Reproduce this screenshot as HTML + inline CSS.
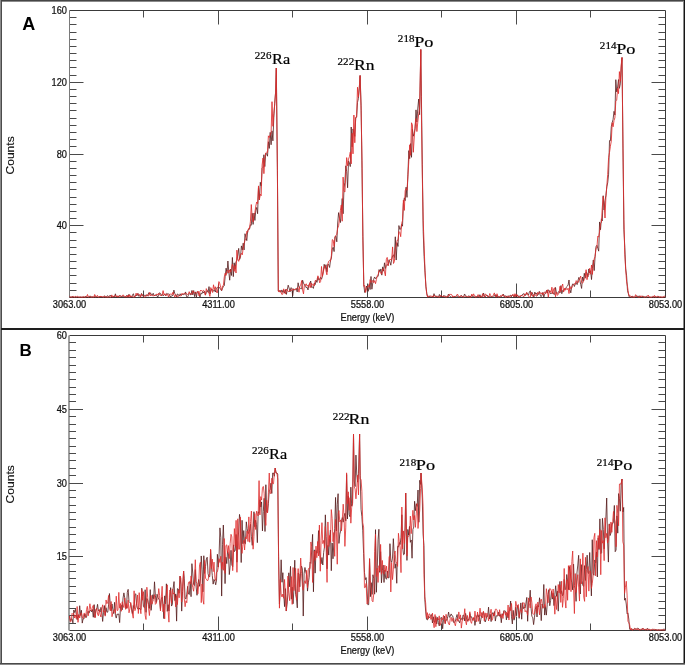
<!DOCTYPE html><html><head><meta charset="utf-8"><style>html,body{margin:0;padding:0;background:#fff;width:685px;height:665px;overflow:hidden}svg{display:block;will-change:transform}text{font-family:"Liberation Sans",sans-serif}.s{font-family:"Liberation Serif",serif;stroke:#000;stroke-width:0.2px}.t{fill:#111;stroke:#111;stroke-width:0.25px}</style></head><body>
<svg width="685" height="665" viewBox="0 0 685 665">
<rect x="0" y="0" width="685" height="665" fill="#fff"/>
<path d="M143.5,10.5v7 M143.5,297.5v-7 M218.5,10.5v14 M218.5,297.5v-14 M292.5,10.5v7 M292.5,297.5v-7 M367.5,10.5v14 M367.5,297.5v-14 M441.5,10.5v7 M441.5,297.5v-7 M516.5,10.5v14 M516.5,297.5v-14 M590.5,10.5v7 M590.5,297.5v-7 M69.5,290.5h7 M665.5,290.5h-7 M69.5,283.5h7 M665.5,283.5h-7 M69.5,275.5h7 M665.5,275.5h-7 M69.5,268.5h7 M665.5,268.5h-7 M69.5,261.5h7 M665.5,261.5h-7 M69.5,254.5h7 M665.5,254.5h-7 M69.5,247.5h7 M665.5,247.5h-7 M69.5,240.5h7 M665.5,240.5h-7 M69.5,232.5h7 M665.5,232.5h-7 M69.5,225.5h14 M665.5,225.5h-14 M69.5,218.5h7 M665.5,218.5h-7 M69.5,211.5h7 M665.5,211.5h-7 M69.5,204.5h7 M665.5,204.5h-7 M69.5,197.5h7 M665.5,197.5h-7 M69.5,189.5h7 M665.5,189.5h-7 M69.5,182.5h7 M665.5,182.5h-7 M69.5,175.5h7 M665.5,175.5h-7 M69.5,168.5h7 M665.5,168.5h-7 M69.5,161.5h7 M665.5,161.5h-7 M69.5,154.5h14 M665.5,154.5h-14 M69.5,146.5h7 M665.5,146.5h-7 M69.5,139.5h7 M665.5,139.5h-7 M69.5,132.5h7 M665.5,132.5h-7 M69.5,125.5h7 M665.5,125.5h-7 M69.5,118.5h7 M665.5,118.5h-7 M69.5,110.5h7 M665.5,110.5h-7 M69.5,103.5h7 M665.5,103.5h-7 M69.5,96.5h7 M665.5,96.5h-7 M69.5,89.5h7 M665.5,89.5h-7 M69.5,82.5h14 M665.5,82.5h-14 M69.5,75.5h7 M665.5,75.5h-7 M69.5,67.5h7 M665.5,67.5h-7 M69.5,60.5h7 M665.5,60.5h-7 M69.5,53.5h7 M665.5,53.5h-7 M69.5,46.5h7 M665.5,46.5h-7 M69.5,39.5h7 M665.5,39.5h-7 M69.5,32.5h7 M665.5,32.5h-7 M69.5,24.5h7 M665.5,24.5h-7 M69.5,17.5h7 M665.5,17.5h-7" stroke="#4a4a4a" stroke-width="1" fill="none"/>
<path d="M69.5,10.5H665.5V297.5" stroke="#3a3a3a" stroke-width="1" fill="none"/>
<path d="M69.5,10.5V297.5" stroke="#7a7a7a" stroke-width="1" fill="none"/>
<path d="M69.5,297.5H665.5" stroke="#3a3a3a" stroke-width="1" fill="none"/>
<path d="M143.5,335.5v7 M143.5,630.5v-7 M218.5,335.5v14 M218.5,630.5v-14 M292.5,335.5v7 M292.5,630.5v-7 M367.5,335.5v14 M367.5,630.5v-14 M441.5,335.5v7 M441.5,630.5v-7 M516.5,335.5v14 M516.5,630.5v-14 M590.5,335.5v7 M590.5,630.5v-7 M69.0,623.5h7 M665.5,623.5h-7 M69.0,615.5h7 M665.5,615.5h-7 M69.0,608.5h7 M665.5,608.5h-7 M69.0,601.5h7 M665.5,601.5h-7 M69.0,593.5h7 M665.5,593.5h-7 M69.0,586.5h7 M665.5,586.5h-7 M69.0,578.5h7 M665.5,578.5h-7 M69.0,571.5h7 M665.5,571.5h-7 M69.0,564.5h7 M665.5,564.5h-7 M69.0,556.5h14 M665.5,556.5h-14 M69.0,549.5h7 M665.5,549.5h-7 M69.0,542.5h7 M665.5,542.5h-7 M69.0,534.5h7 M665.5,534.5h-7 M69.0,527.5h7 M665.5,527.5h-7 M69.0,519.5h7 M665.5,519.5h-7 M69.0,512.5h7 M665.5,512.5h-7 M69.0,505.5h7 M665.5,505.5h-7 M69.0,497.5h7 M665.5,497.5h-7 M69.0,490.5h7 M665.5,490.5h-7 M69.0,483.5h14 M665.5,483.5h-14 M69.0,475.5h7 M665.5,475.5h-7 M69.0,468.5h7 M665.5,468.5h-7 M69.0,460.5h7 M665.5,460.5h-7 M69.0,453.5h7 M665.5,453.5h-7 M69.0,446.5h7 M665.5,446.5h-7 M69.0,438.5h7 M665.5,438.5h-7 M69.0,431.5h7 M665.5,431.5h-7 M69.0,424.5h7 M665.5,424.5h-7 M69.0,416.5h7 M665.5,416.5h-7 M69.0,409.5h14 M665.5,409.5h-14 M69.0,401.5h7 M665.5,401.5h-7 M69.0,394.5h7 M665.5,394.5h-7 M69.0,387.5h7 M665.5,387.5h-7 M69.0,379.5h7 M665.5,379.5h-7 M69.0,372.5h7 M665.5,372.5h-7 M69.0,365.5h7 M665.5,365.5h-7 M69.0,357.5h7 M665.5,357.5h-7 M69.0,350.5h7 M665.5,350.5h-7 M69.0,342.5h7 M665.5,342.5h-7" stroke="#4a4a4a" stroke-width="1" fill="none"/>
<path d="M69.5,335.5H665.5V630.5" stroke="#3a3a3a" stroke-width="1" fill="none"/>
<path d="M69.0,335.5V630.5" stroke="#606060" stroke-width="1.2" fill="none"/>
<path d="M69.5,630.5H665.5" stroke="#3a3a3a" stroke-width="1" fill="none"/>
<polyline points="69.50,297.20 70.40,297.20 71.30,297.20 72.20,296.22 73.10,297.20 74.00,297.07 74.90,297.20 75.80,296.57 76.70,297.20 77.60,297.20 78.50,297.20 79.40,297.11 80.30,297.02 81.20,297.20 82.10,297.20 83.00,296.85 83.90,297.20 84.80,297.20 85.70,296.23 86.60,297.20 87.50,297.20 88.40,297.20 89.30,297.20 90.20,295.87 91.10,296.94 92.00,296.92 92.90,296.92 93.80,297.20 94.70,296.58 95.60,296.17 96.50,296.90 97.40,297.14 98.30,297.20 99.20,296.97 100.10,296.24 101.00,297.20 101.90,296.73 102.80,297.13 103.70,296.66 104.60,295.89 105.50,297.12 106.40,297.20 107.30,295.67 108.20,296.50 109.10,296.24 110.00,295.46 110.90,295.69 111.80,297.20 112.70,297.20 113.60,296.16 114.50,297.09 115.40,293.81 116.30,297.20 117.20,296.42 118.10,297.20 119.00,295.66 119.90,295.96 120.80,295.85 121.70,297.20 122.60,296.03 123.50,296.17 124.40,297.20 125.30,297.20 126.20,295.84 127.10,295.53 128.00,297.13 128.90,294.28 129.80,295.73 130.70,297.20 131.60,297.20 132.50,295.03 133.40,293.72 134.30,296.87 135.20,296.16 136.10,294.91 137.00,295.78 137.90,293.39 138.80,296.33 139.70,295.74 140.60,296.29 141.50,293.48 142.40,296.01 143.30,295.18 144.20,295.52 145.10,295.00 146.00,295.86 146.90,295.62 147.80,295.75 148.70,292.74 149.60,294.32 150.50,292.81 151.40,294.94 152.30,295.21 153.20,293.27 154.10,295.73 155.00,295.13 155.90,295.14 156.80,295.39 157.70,297.20 158.60,295.31 159.50,292.76 160.40,293.33 161.30,295.62 162.20,294.33 163.10,295.87 164.00,294.90 164.90,294.46 165.80,295.71 166.70,293.38 167.60,293.96 168.50,293.96 169.40,294.43 170.30,297.03 171.20,296.01 172.10,296.06 173.00,295.00 173.90,290.10 174.80,293.71 175.70,294.48 176.60,296.74 177.50,293.96 178.40,294.54 179.30,296.10 180.20,293.77 181.10,295.30 182.00,294.58 182.90,294.31 183.80,294.65 184.70,294.13 185.60,291.93 186.50,296.47 187.40,297.20 188.30,295.70 189.20,293.51 190.10,294.45 191.00,295.03 191.90,290.44 192.80,294.90 193.70,290.55 194.60,296.66 195.50,291.89 196.40,297.20 197.30,291.50 198.20,292.76 199.10,294.35 200.00,297.20 200.90,293.11 201.80,293.99 202.70,291.45 203.60,292.99 204.50,291.11 205.40,295.01 206.30,292.65 207.20,290.43 208.10,292.33 209.00,286.60 209.90,293.99 210.80,291.02 211.70,288.98 212.60,290.30 213.50,291.09 214.40,289.76 215.30,292.03 216.20,288.39 217.10,287.66 218.00,287.80 218.90,287.04 219.80,288.01 220.70,289.50 221.60,290.79 222.50,288.27 223.40,286.51 224.30,285.72 225.20,276.17 226.10,268.16 227.00,273.35 227.90,261.00 228.80,271.91 229.70,280.21 230.60,269.19 231.50,275.47 232.40,257.44 233.30,276.64 234.20,262.84 235.10,269.03 236.00,261.45 236.90,260.79 237.80,255.01 238.70,248.39 239.60,259.49 240.50,257.17 241.40,245.89 242.30,250.07 243.20,243.17 244.10,249.91 245.00,233.71 245.90,237.46 246.80,240.62 247.70,230.61 248.60,229.14 249.50,229.21 250.40,224.78 251.30,225.23 252.20,213.26 253.10,224.41 254.00,213.01 254.90,220.44 255.80,210.26 256.70,207.46 257.60,213.71 258.50,187.68 259.40,199.85 260.30,182.29 261.20,185.92 262.10,168.36 263.00,167.20 263.90,154.76 264.80,166.57 265.70,153.48 266.60,153.67 267.50,156.20 268.40,141.74 269.30,148.40 270.20,132.36 271.10,144.75 272.00,130.87 272.90,140.84 273.80,117.51 274.70,103.32 275.60,92.09 276.30,68.00 277.40,170.40 278.30,291.21 279.20,291.04 280.10,290.81 281.00,292.32 281.90,289.91 282.80,292.41 283.70,290.43 284.60,293.19 285.50,289.56 286.40,294.38 287.30,289.75 288.20,285.17 289.10,287.96 290.00,291.98 290.90,287.67 291.80,288.25 292.70,295.79 293.60,288.91 294.50,289.80 295.40,289.12 296.30,288.60 297.20,291.91 298.10,282.79 299.00,287.62 299.90,287.80 300.80,288.75 301.70,288.79 302.60,280.17 303.50,283.15 304.40,284.86 305.30,285.32 306.20,287.75 307.10,287.22 308.00,289.95 308.90,284.54 309.80,284.34 310.70,281.03 311.60,287.38 312.50,286.84 313.40,288.40 314.30,283.01 315.20,284.55 316.10,280.32 317.00,282.42 317.90,277.34 318.80,279.96 319.70,279.33 320.60,277.32 321.50,279.25 322.40,276.47 323.30,271.35 324.20,264.30 325.10,268.34 326.00,264.66 326.90,271.84 327.80,264.36 328.70,264.49 329.60,267.50 330.50,260.48 331.40,258.11 332.30,248.91 333.20,247.22 334.10,251.59 335.00,236.54 335.90,236.17 336.80,241.83 337.70,223.00 338.60,212.64 339.50,218.29 340.40,222.58 341.30,210.61 342.20,198.55 343.10,213.76 344.00,187.93 344.90,182.31 345.80,165.84 346.70,171.69 347.60,187.79 348.50,161.02 349.40,162.72 350.30,166.55 351.20,127.03 352.10,146.85 353.00,128.93 353.90,132.73 354.80,136.34 355.70,117.78 356.60,117.09 357.50,102.37 358.40,98.45 359.30,88.08 360.10,75.50 361.10,105.25 362.00,168.12 362.90,236.40 363.80,284.82 364.70,292.48 365.60,290.27 366.50,286.01 367.40,289.31 368.30,291.27 369.20,283.79 370.10,289.56 371.00,276.48 371.90,289.22 372.80,282.73 373.70,279.29 374.60,276.98 375.50,278.64 376.40,277.57 377.30,277.00 378.20,276.05 379.10,269.56 380.00,271.71 380.90,268.95 381.80,275.14 382.70,266.89 383.60,271.15 384.50,262.82 385.40,268.53 386.30,265.35 387.20,264.44 388.10,265.51 389.00,259.80 389.90,262.03 390.80,265.18 391.70,259.12 392.60,255.69 393.50,254.95 394.40,257.57 395.30,236.79 396.20,260.04 397.10,242.68 398.00,246.47 398.90,225.59 399.80,229.39 400.70,229.12 401.60,224.48 402.50,226.20 403.40,203.41 404.30,197.86 405.20,200.63 406.10,187.17 407.00,197.37 407.90,174.74 408.80,150.63 409.70,158.70 410.60,143.60 411.50,157.32 412.40,129.29 413.30,136.21 414.20,133.52 415.10,128.66 416.00,109.88 416.90,122.01 417.80,108.05 418.70,99.01 419.60,114.70 420.80,49.50 421.40,96.21 422.30,164.84 423.20,231.36 424.10,256.52 425.00,272.23 425.90,286.55 426.80,293.44 427.70,296.70 428.60,297.19 429.50,295.90 430.40,297.20 431.30,297.20 432.20,296.63 433.10,296.92 434.00,293.67 434.90,296.30 435.80,296.14 436.70,296.25 437.60,297.20 438.50,297.20 439.40,294.46 440.30,296.74 441.20,295.64 442.10,296.91 443.00,297.20 443.90,295.30 444.80,296.28 445.70,296.16 446.60,297.08 447.50,297.20 448.40,294.13 449.30,295.64 450.20,296.22 451.10,297.20 452.00,297.20 452.90,296.80 453.80,297.20 454.70,296.27 455.60,297.20 456.50,295.79 457.40,295.83 458.30,297.20 459.20,297.20 460.10,296.77 461.00,295.32 461.90,296.00 462.80,297.20 463.70,296.37 464.60,293.98 465.50,295.68 466.40,296.66 467.30,297.20 468.20,296.35 469.10,295.72 470.00,297.20 470.90,295.95 471.80,295.79 472.70,296.60 473.60,296.46 474.50,297.20 475.40,296.32 476.30,296.77 477.20,296.32 478.10,296.86 479.00,297.20 479.90,294.70 480.80,297.20 481.70,297.20 482.60,296.03 483.50,293.10 484.40,296.27 485.30,296.80 486.20,295.37 487.10,295.26 488.00,295.98 488.90,297.20 489.80,296.54 490.70,296.83 491.60,296.49 492.50,296.74 493.40,296.12 494.30,296.25 495.20,294.58 496.10,297.20 497.00,295.05 497.90,297.20 498.80,296.55 499.70,296.97 500.60,296.26 501.50,296.30 502.40,295.76 503.30,294.12 504.20,296.49 505.10,296.44 506.00,295.68 506.90,297.20 507.80,297.20 508.70,295.77 509.60,296.02 510.50,295.15 511.40,296.74 512.30,295.01 513.20,295.56 514.10,297.20 515.00,294.71 515.90,297.20 516.80,296.18 517.70,294.97 518.60,297.12 519.50,296.22 520.40,296.89 521.30,295.54 522.20,295.22 523.10,293.85 524.00,293.92 524.90,295.55 525.80,295.12 526.70,292.57 527.60,293.97 528.50,295.11 529.40,291.94 530.30,290.76 531.20,295.43 532.10,292.43 533.00,294.44 533.90,297.20 534.80,292.07 535.70,294.08 536.60,292.98 537.50,295.54 538.40,294.21 539.30,291.40 540.20,295.08 541.10,296.70 542.00,295.08 542.90,292.36 543.80,297.20 544.70,294.11 545.60,292.85 546.50,290.39 547.40,293.17 548.30,289.92 549.20,290.61 550.10,293.35 551.00,293.80 551.90,292.97 552.80,292.22 553.70,294.23 554.60,294.37 555.50,287.46 556.40,293.09 557.30,293.55 558.20,292.15 559.10,291.33 560.00,292.95 560.90,285.64 561.80,293.73 562.70,290.30 563.60,290.08 564.50,290.07 565.40,288.66 566.30,287.24 567.20,286.37 568.10,285.00 569.00,279.99 569.90,289.39 570.80,292.85 571.70,286.77 572.60,283.96 573.50,284.08 574.40,286.50 575.30,283.43 576.20,282.39 577.10,284.61 578.00,280.37 578.90,277.35 579.80,280.26 580.70,284.33 581.60,288.43 582.50,277.01 583.40,280.97 584.30,273.28 585.20,278.10 586.10,271.91 587.00,272.77 587.90,277.03 588.80,268.96 589.70,272.92 590.60,270.76 591.50,279.56 592.40,268.27 593.30,260.04 594.20,270.60 595.10,256.42 596.00,246.68 596.90,245.31 597.80,248.23 598.70,251.16 599.60,221.95 600.50,229.72 601.40,218.82 602.30,220.93 603.20,195.73 604.10,210.01 605.00,200.51 605.90,195.68 606.80,186.87 607.70,182.86 608.60,174.18 609.50,140.58 610.40,140.85 611.30,126.67 612.20,122.60 613.10,119.27 614.00,111.33 614.90,115.05 615.80,79.68 616.70,91.86 617.60,86.98 618.50,79.60 619.40,88.37 620.30,83.90 621.20,68.02 622.00,57.50 623.00,150.93 623.90,229.74 624.80,247.40 625.70,268.83 626.60,275.80 627.50,290.62 628.40,293.76 629.30,297.20 630.20,297.20 631.10,297.09 632.00,296.04 632.90,296.63 633.80,297.20 634.70,297.20 635.60,297.20 636.50,295.83 637.40,296.01 638.30,297.20 639.20,295.74 640.10,297.10 641.00,297.00 641.90,297.20 642.80,295.86 643.70,297.20 644.60,296.84 645.50,297.20 646.40,296.36 647.30,297.20 648.20,297.20 649.10,297.20 650.00,297.20 650.90,297.20 651.80,297.20 652.70,297.20 653.60,296.40 654.50,297.20 655.40,296.53 656.30,297.19 657.20,297.19 658.10,296.41 659.00,296.77 659.90,297.20 660.80,297.20 661.70,297.20 662.60,297.20 663.50,297.14 664.40,297.20 665.30,297.20" fill="none" stroke="#561a1a" stroke-width="0.8" stroke-linejoin="round"/>
<polyline points="69.50,296.30 70.40,296.86 71.30,297.20 72.20,297.20 73.10,296.30 74.00,297.15 74.90,297.19 75.80,296.52 76.70,297.20 77.60,296.19 78.50,296.99 79.40,297.16 80.30,297.02 81.20,297.20 82.10,297.20 83.00,297.20 83.90,296.63 84.80,297.20 85.70,297.20 86.60,296.60 87.50,294.52 88.40,297.20 89.30,296.55 90.20,296.58 91.10,297.20 92.00,297.09 92.90,296.87 93.80,297.20 94.70,294.47 95.60,297.20 96.50,296.60 97.40,295.34 98.30,297.17 99.20,297.20 100.10,296.00 101.00,297.05 101.90,296.27 102.80,297.20 103.70,297.20 104.60,295.89 105.50,297.20 106.40,296.99 107.30,297.05 108.20,297.20 109.10,296.40 110.00,297.20 110.90,297.20 111.80,294.88 112.70,297.20 113.60,296.19 114.50,296.37 115.40,295.11 116.30,296.90 117.20,295.77 118.10,297.20 119.00,295.66 119.90,296.41 120.80,296.00 121.70,296.50 122.60,295.18 123.50,295.05 124.40,296.90 125.30,296.91 126.20,296.26 127.10,297.20 128.00,295.05 128.90,297.20 129.80,294.77 130.70,297.20 131.60,296.28 132.50,296.20 133.40,297.20 134.30,296.86 135.20,296.85 136.10,293.15 137.00,295.40 137.90,293.60 138.80,294.56 139.70,294.64 140.60,297.19 141.50,293.93 142.40,294.94 143.30,295.54 144.20,297.03 145.10,297.20 146.00,296.15 146.90,294.36 147.80,295.53 148.70,296.06 149.60,292.44 150.50,295.89 151.40,294.89 152.30,295.51 153.20,295.77 154.10,295.74 155.00,295.23 155.90,295.29 156.80,293.88 157.70,295.06 158.60,293.19 159.50,294.96 160.40,295.09 161.30,296.03 162.20,294.60 163.10,290.64 164.00,294.95 164.90,293.61 165.80,295.72 166.70,294.43 167.60,294.37 168.50,297.10 169.40,294.35 170.30,294.15 171.20,294.11 172.10,294.54 173.00,292.18 173.90,294.68 174.80,297.16 175.70,294.67 176.60,295.41 177.50,297.20 178.40,296.06 179.30,295.33 180.20,295.76 181.10,295.79 182.00,293.27 182.90,294.18 183.80,293.65 184.70,293.22 185.60,294.38 186.50,293.44 187.40,294.49 188.30,294.33 189.20,291.67 190.10,293.80 191.00,293.45 191.90,294.51 192.80,290.80 193.70,291.65 194.60,293.27 195.50,292.74 196.40,293.60 197.30,292.10 198.20,291.06 199.10,295.90 200.00,291.09 200.90,290.04 201.80,291.01 202.70,291.19 203.60,290.30 204.50,291.72 205.40,295.20 206.30,288.61 207.20,290.60 208.10,291.51 209.00,293.34 209.90,296.36 210.80,287.58 211.70,289.98 212.60,292.50 213.50,284.79 214.40,289.55 215.30,286.74 216.20,290.38 217.10,293.01 218.00,288.61 218.90,281.60 219.80,283.67 220.70,287.53 221.60,290.36 222.50,285.95 223.40,285.45 224.30,276.92 225.20,273.06 226.10,275.35 227.00,270.88 227.90,270.18 228.80,272.96 229.70,269.83 230.60,272.08 231.50,268.78 232.40,264.17 233.30,267.06 234.20,271.40 235.10,265.48 236.00,272.99 236.90,250.13 237.80,258.58 238.70,261.36 239.60,258.56 240.50,254.97 241.40,253.30 242.30,254.80 243.20,248.03 244.10,243.33 245.00,240.33 245.90,238.45 246.80,231.31 247.70,232.25 248.60,228.36 249.50,228.60 250.40,221.82 251.30,204.55 252.20,217.90 253.10,221.95 254.00,214.75 254.90,212.56 255.80,206.07 256.70,201.97 257.60,203.65 258.50,185.88 259.40,199.67 260.30,194.17 261.20,195.74 262.10,165.14 263.00,157.98 263.90,173.65 264.80,158.72 265.70,152.94 266.60,152.20 267.50,152.64 268.40,135.83 269.30,137.56 270.20,135.03 271.10,132.92 272.00,101.68 272.90,126.30 273.80,113.56 274.70,104.83 275.60,92.33 276.30,68.00 277.40,169.07 278.30,291.01 279.20,292.13 280.10,290.12 281.00,292.27 281.90,294.57 282.80,294.10 283.70,288.83 284.60,291.62 285.50,293.81 286.40,288.97 287.30,290.18 288.20,291.44 289.10,291.45 290.00,289.80 290.90,290.47 291.80,290.47 292.70,288.75 293.60,290.02 294.50,289.45 295.40,289.97 296.30,288.79 297.20,287.72 298.10,288.08 299.00,292.21 299.90,285.90 300.80,285.07 301.70,280.55 302.60,289.87 303.50,293.89 304.40,284.83 305.30,284.79 306.20,283.79 307.10,286.18 308.00,285.29 308.90,287.53 309.80,282.66 310.70,287.64 311.60,283.26 312.50,285.20 313.40,284.47 314.30,285.93 315.20,280.62 316.10,280.61 317.00,279.61 317.90,275.81 318.80,277.89 319.70,282.81 320.60,281.57 321.50,266.48 322.40,276.36 323.30,272.20 324.20,267.44 325.10,265.51 326.00,270.93 326.90,274.80 327.80,264.26 328.70,261.24 329.60,260.41 330.50,261.28 331.40,255.50 332.30,239.62 333.20,240.22 334.10,246.61 335.00,237.08 335.90,235.52 336.80,234.24 337.70,228.24 338.60,225.80 339.50,219.00 340.40,210.24 341.30,204.96 342.20,221.23 343.10,177.10 344.00,191.21 344.90,192.03 345.80,173.12 346.70,157.60 347.60,165.83 348.50,159.18 349.40,156.66 350.30,152.07 351.20,163.88 352.10,133.21 353.00,153.83 353.90,115.05 354.80,142.78 355.70,117.23 356.60,117.27 357.50,87.20 358.40,96.89 359.30,87.41 360.10,75.50 361.10,110.40 362.00,160.43 362.90,240.21 363.80,286.32 364.70,285.46 365.60,292.44 366.50,289.04 367.40,286.85 368.30,285.51 369.20,287.10 370.10,279.60 371.00,282.40 371.90,281.85 372.80,280.36 373.70,282.73 374.60,280.60 375.50,283.66 376.40,279.47 377.30,275.41 378.20,274.64 379.10,270.64 380.00,271.64 380.90,273.61 381.80,273.84 382.70,269.10 383.60,268.55 384.50,271.84 385.40,275.86 386.30,259.59 387.20,257.43 388.10,265.67 389.00,261.55 389.90,259.54 390.80,259.60 391.70,259.49 392.60,246.92 393.50,263.48 394.40,261.48 395.30,248.63 396.20,246.32 397.10,240.27 398.00,240.24 398.90,231.55 399.80,232.47 400.70,236.68 401.60,223.79 402.50,220.54 403.40,200.23 404.30,210.42 405.20,190.69 406.10,188.76 407.00,190.24 407.90,176.38 408.80,161.52 409.70,144.77 410.60,155.30 411.50,122.78 412.40,124.84 413.30,152.30 414.20,137.99 415.10,126.48 416.00,118.54 416.90,131.56 417.80,121.98 418.70,113.73 419.60,108.25 420.80,49.50 421.40,112.50 422.30,176.16 423.20,220.25 424.10,245.14 425.00,270.70 425.90,285.94 426.80,294.73 427.70,297.19 428.60,296.03 429.50,296.29 430.40,295.98 431.30,296.31 432.20,295.98 433.10,297.20 434.00,295.39 434.90,295.72 435.80,297.13 436.70,296.35 437.60,296.19 438.50,297.20 439.40,297.20 440.30,295.74 441.20,295.40 442.10,296.54 443.00,296.71 443.90,296.18 444.80,296.74 445.70,296.98 446.60,297.20 447.50,295.81 448.40,296.87 449.30,294.37 450.20,294.47 451.10,294.31 452.00,295.05 452.90,297.20 453.80,296.20 454.70,296.49 455.60,296.39 456.50,295.60 457.40,294.07 458.30,295.46 459.20,297.20 460.10,296.08 461.00,296.30 461.90,295.83 462.80,297.14 463.70,296.99 464.60,296.19 465.50,296.47 466.40,296.22 467.30,296.61 468.20,296.66 469.10,296.62 470.00,297.20 470.90,297.20 471.80,294.09 472.70,296.15 473.60,293.83 474.50,296.12 475.40,297.20 476.30,296.87 477.20,296.56 478.10,294.59 479.00,297.20 479.90,296.66 480.80,295.87 481.70,297.20 482.60,293.71 483.50,295.34 484.40,297.20 485.30,293.83 486.20,294.93 487.10,296.33 488.00,296.90 488.90,296.52 489.80,293.52 490.70,295.65 491.60,296.85 492.50,295.89 493.40,295.25 494.30,292.90 495.20,295.55 496.10,297.20 497.00,293.72 497.90,296.34 498.80,297.20 499.70,296.76 500.60,295.56 501.50,296.57 502.40,294.60 503.30,296.16 504.20,295.45 505.10,297.20 506.00,297.20 506.90,296.96 507.80,295.80 508.70,297.12 509.60,297.20 510.50,295.76 511.40,296.14 512.30,294.81 513.20,294.34 514.10,296.71 515.00,293.66 515.90,296.30 516.80,294.35 517.70,296.49 518.60,296.82 519.50,297.20 520.40,295.67 521.30,295.58 522.20,295.51 523.10,296.33 524.00,296.66 524.90,293.68 525.80,294.87 526.70,292.49 527.60,294.25 528.50,295.98 529.40,297.20 530.30,297.20 531.20,292.15 532.10,294.49 533.00,296.61 533.90,294.62 534.80,294.01 535.70,295.63 536.60,296.24 537.50,292.44 538.40,294.21 539.30,292.24 540.20,292.43 541.10,293.96 542.00,292.70 542.90,295.11 543.80,293.03 544.70,291.80 545.60,293.78 546.50,292.14 547.40,289.77 548.30,297.20 549.20,291.19 550.10,290.49 551.00,292.56 551.90,287.20 552.80,293.89 553.70,289.00 554.60,287.74 555.50,296.80 556.40,292.01 557.30,295.32 558.20,294.57 559.10,292.76 560.00,286.34 560.90,291.69 561.80,286.68 562.70,284.03 563.60,292.05 564.50,288.25 565.40,290.23 566.30,288.48 567.20,289.73 568.10,288.18 569.00,293.55 569.90,286.43 570.80,288.95 571.70,288.09 572.60,285.60 573.50,284.64 574.40,283.71 575.30,284.42 576.20,280.62 577.10,282.15 578.00,282.87 578.90,280.13 579.80,278.64 580.70,276.13 581.60,282.43 582.50,283.19 583.40,281.76 584.30,279.34 585.20,277.66 586.10,269.70 587.00,279.66 587.90,274.31 588.80,275.11 589.70,268.32 590.60,274.16 591.50,264.97 592.40,274.39 593.30,264.15 594.20,258.89 595.10,256.62 596.00,248.27 596.90,247.70 597.80,236.16 598.70,237.14 599.60,231.71 600.50,223.50 601.40,222.60 602.30,207.24 603.20,196.53 604.10,204.05 605.00,218.01 605.90,197.38 606.80,186.13 607.70,174.40 608.60,157.60 609.50,152.48 610.40,146.19 611.30,141.15 612.20,122.67 613.10,126.78 614.00,120.48 614.90,117.81 615.80,101.02 616.70,100.27 617.60,88.25 618.50,93.63 619.40,71.61 620.30,81.28 621.20,65.05 622.00,57.50 623.00,148.66 623.90,219.46 624.80,254.80 625.70,269.51 626.60,281.77 627.50,286.29 628.40,293.11 629.30,296.11 630.20,295.56 631.10,296.86 632.00,297.20 632.90,296.64 633.80,297.20 634.70,297.20 635.60,294.66 636.50,296.42 637.40,296.64 638.30,297.20 639.20,297.06 640.10,297.20 641.00,295.69 641.90,296.70 642.80,296.29 643.70,297.20 644.60,297.20 645.50,296.79 646.40,297.20 647.30,296.25 648.20,295.05 649.10,296.97 650.00,297.20 650.90,297.20 651.80,297.20 652.70,296.40 653.60,297.20 654.50,295.45 655.40,297.20 656.30,296.98 657.20,296.33 658.10,296.55 659.00,297.20 659.90,297.20 660.80,296.70 661.70,297.20 662.60,297.20 663.50,297.05 664.40,296.00 665.30,296.62" fill="none" stroke="#de2c2c" stroke-width="0.85" stroke-linejoin="round"/>
<polyline points="69.50,615.97 70.35,620.57 71.20,619.13 72.05,618.96 72.90,622.93 73.75,610.02 74.60,612.54 75.45,609.24 76.30,614.70 77.15,619.74 78.00,614.90 78.85,617.24 79.70,605.73 80.55,615.40 81.40,610.24 82.25,623.10 83.10,618.72 83.95,618.96 84.80,613.91 85.65,617.15 86.50,617.29 87.35,612.16 88.20,611.28 89.05,613.11 89.90,610.49 90.75,610.43 91.60,611.93 92.45,609.49 93.30,617.24 94.15,604.64 95.00,617.39 95.85,609.26 96.70,609.29 97.55,604.33 98.40,610.81 99.25,609.84 100.10,612.11 100.95,607.36 101.80,610.86 102.65,621.43 103.50,612.22 104.35,605.53 105.20,615.21 106.05,607.72 106.90,612.28 107.75,612.12 108.60,604.83 109.45,593.54 110.30,604.47 111.15,610.80 112.00,603.95 112.85,609.76 113.70,613.60 114.55,602.32 115.40,615.28 116.25,618.09 117.10,613.98 117.95,614.54 118.80,613.93 119.65,622.60 120.50,606.84 121.35,605.31 122.20,609.80 123.05,598.04 123.90,592.89 124.75,597.93 125.60,607.57 126.45,608.25 127.30,592.29 128.15,589.35 129.00,601.63 129.85,602.52 130.70,603.54 131.55,609.25 132.40,613.68 133.25,605.54 134.10,608.57 134.95,594.59 135.80,593.81 136.65,605.27 137.50,608.71 138.35,609.15 139.20,607.98 140.05,609.50 140.90,609.64 141.75,588.22 142.60,596.60 143.45,606.47 144.30,607.59 145.15,589.73 146.00,612.32 146.85,598.59 147.70,600.25 148.55,604.48 149.40,608.47 150.25,589.64 151.10,610.33 151.95,602.28 152.80,594.71 153.65,598.85 154.50,581.80 155.35,595.18 156.20,602.38 157.05,594.23 157.90,597.46 158.75,598.92 159.60,600.52 160.45,609.25 161.30,599.51 162.15,597.17 163.00,604.40 163.85,618.59 164.70,595.85 165.55,603.72 166.40,583.81 167.25,611.33 168.10,604.67 168.95,610.98 169.80,597.47 170.65,587.62 171.50,606.07 172.35,604.50 173.20,588.08 174.05,581.58 174.90,600.59 175.75,593.95 176.60,621.13 177.45,588.64 178.30,589.14 179.15,593.17 180.00,576.26 180.85,584.11 181.70,611.12 182.55,591.55 183.60,571.00 184.25,578.20 185.10,598.44 185.95,599.00 186.80,594.11 187.65,586.36 188.50,593.98 189.35,594.51 190.20,581.69 191.05,596.68 191.90,563.67 192.75,573.04 193.60,584.49 194.45,585.52 195.30,569.61 196.15,587.08 197.00,595.31 197.85,584.80 198.70,579.50 199.55,586.29 200.40,578.95 201.25,555.96 202.10,569.79 202.95,591.85 203.80,555.75 204.65,573.46 205.50,566.67 206.35,559.02 207.20,557.24 208.05,573.70 208.90,576.80 209.75,576.63 210.60,549.97 211.45,566.65 212.30,575.60 213.15,584.11 214.00,579.41 214.85,581.28 215.70,584.80 216.55,580.07 217.40,554.25 218.25,567.12 219.10,554.54 219.95,527.87 220.80,537.64 221.65,596.05 222.50,544.22 223.35,525.06 224.20,550.53 225.05,583.61 225.90,557.19 226.75,563.61 227.60,551.43 228.45,553.49 229.30,574.57 230.15,565.79 231.00,550.30 231.85,565.03 232.70,566.82 233.55,544.86 234.40,551.60 235.25,550.23 236.10,534.45 236.95,562.19 237.80,540.22 238.65,532.02 239.50,514.42 240.35,519.91 241.20,562.53 242.05,520.27 242.90,543.74 243.75,530.59 244.60,543.26 245.45,543.78 246.30,521.84 247.15,528.40 248.00,533.51 248.85,532.88 249.70,529.87 250.55,524.26 251.40,536.77 252.25,545.34 253.10,532.17 253.95,511.73 254.80,526.78 255.65,520.29 256.50,524.47 257.35,542.65 258.20,511.67 259.05,513.34 259.90,499.77 260.75,507.01 261.60,501.90 262.45,530.91 263.30,511.64 264.15,498.33 265.00,531.47 265.85,484.73 266.70,512.19 267.55,511.95 268.40,503.76 269.25,490.52 270.10,489.85 270.95,483.18 271.80,493.47 272.65,473.00 273.50,473.00 274.35,476.22 275.20,468.00 276.05,473.00 276.90,473.00 277.75,474.02 278.60,556.67 279.45,604.05 280.30,585.87 281.15,559.80 282.00,582.25 282.85,572.69 283.70,593.52 284.55,606.63 285.40,588.61 286.25,611.04 287.10,604.16 287.95,593.36 288.80,572.80 289.65,586.79 290.50,566.33 291.35,599.19 292.20,587.15 293.05,603.78 293.90,589.54 294.75,560.19 295.60,594.39 296.45,598.18 297.30,607.87 298.15,573.10 299.00,573.77 299.85,586.80 300.70,571.32 301.55,566.12 302.40,569.05 303.25,616.04 304.10,573.72 304.95,567.49 305.80,572.02 306.65,575.06 307.50,591.10 308.35,582.82 309.20,577.29 310.05,562.32 310.90,563.30 311.75,549.51 312.60,534.39 313.45,591.78 314.30,549.83 315.15,573.12 316.00,550.43 316.85,553.26 317.70,551.37 318.55,530.64 319.40,550.87 320.25,557.42 321.10,563.76 321.95,557.47 322.80,565.01 323.65,552.51 324.50,546.84 325.35,514.84 326.20,536.70 327.05,568.83 327.90,545.37 328.75,555.09 329.60,538.41 330.45,530.02 331.30,570.69 332.15,542.94 333.00,558.80 333.85,542.44 334.70,528.34 335.55,497.43 336.40,531.09 337.25,504.82 338.10,493.70 338.95,543.40 339.80,534.16 340.65,531.11 341.50,520.59 342.35,517.47 343.20,522.15 344.05,516.43 344.90,513.34 345.75,520.80 346.60,474.50 347.45,518.96 348.30,496.14 349.15,514.48 350.00,516.80 350.85,487.16 351.70,506.24 352.55,503.37 353.50,434.00 354.25,481.00 355.10,486.60 355.95,455.08 356.80,475.18 357.65,482.12 358.50,473.60 359.60,434.00 360.20,475.45 361.05,509.24 361.90,516.79 362.75,530.82 363.60,553.41 364.45,572.47 365.30,579.71 366.15,577.62 367.00,588.86 367.85,604.80 368.70,604.59 369.55,558.94 370.40,596.70 371.25,582.71 372.10,594.39 372.95,574.75 373.80,578.70 374.65,594.18 375.50,529.67 376.35,592.31 377.20,570.75 378.05,539.78 378.90,529.25 379.75,572.37 380.60,551.69 381.45,582.84 382.30,570.63 383.15,565.17 384.00,582.46 384.85,570.04 385.70,578.22 386.55,579.30 387.40,571.07 388.25,578.01 389.10,577.68 389.95,543.68 390.80,560.43 391.65,562.47 392.50,558.08 393.35,538.66 394.20,554.38 395.05,568.26 395.90,563.77 396.75,583.28 397.60,546.25 398.45,546.96 399.30,542.52 400.15,544.46 401.00,537.35 401.85,514.79 402.70,547.34 403.55,554.78 404.40,554.12 405.25,518.00 405.70,493.00 406.95,560.40 407.80,529.46 408.65,535.15 409.50,526.42 410.35,542.33 411.20,539.98 412.05,558.23 412.90,529.53 413.75,527.05 414.60,501.25 415.45,510.66 416.30,503.81 417.15,506.40 418.00,490.03 418.85,522.22 419.70,480.31 420.55,484.40 421.00,473.00 422.25,497.92 423.10,533.93 423.95,545.52 424.80,599.34 425.65,611.08 426.50,619.25 427.35,619.96 428.20,615.96 429.05,617.95 429.90,616.56 430.75,615.86 431.60,614.54 432.45,623.01 433.30,616.82 434.15,622.20 435.00,621.95 435.85,616.50 436.70,624.04 437.55,617.43 438.40,622.85 439.25,625.88 440.10,618.54 440.95,617.71 441.80,617.56 442.65,628.72 443.50,619.34 444.35,616.12 445.20,623.36 446.05,619.76 446.90,620.18 447.75,616.63 448.60,612.10 449.45,617.39 450.30,616.14 451.15,613.93 452.00,615.77 452.85,616.18 453.70,622.58 454.55,622.14 455.40,621.35 456.25,617.33 457.10,614.49 457.95,620.29 458.80,620.83 459.65,622.83 460.50,618.80 461.35,618.32 462.20,619.94 463.05,615.04 463.90,615.42 464.75,621.01 465.60,613.42 466.45,618.00 467.30,621.35 468.15,619.10 469.00,619.80 469.85,613.51 470.70,617.40 471.55,616.72 472.40,620.21 473.25,619.39 474.10,617.71 474.95,625.39 475.80,619.70 476.65,616.17 477.50,614.72 478.35,617.06 479.20,614.72 480.05,624.00 480.90,619.34 481.75,615.43 482.60,613.79 483.45,611.80 484.30,615.13 485.15,622.00 486.00,619.80 486.85,615.66 487.70,616.40 488.55,607.14 489.40,618.96 490.25,614.32 491.10,621.60 491.95,614.21 492.80,612.60 493.65,615.80 494.50,611.53 495.35,621.07 496.20,615.76 497.05,616.04 497.90,615.75 498.75,612.13 499.60,616.27 500.45,614.56 501.30,622.72 502.15,613.70 503.00,615.24 503.85,610.65 504.70,610.96 505.55,611.18 506.40,619.90 507.25,613.08 508.10,617.98 508.95,610.90 509.80,610.17 510.65,601.00 511.50,616.82 512.35,623.96 513.20,610.37 514.05,620.16 514.90,616.57 515.75,607.17 516.60,615.85 517.45,605.51 518.30,609.04 519.15,618.39 520.00,611.63 520.85,602.92 521.70,619.23 522.55,602.73 523.40,608.58 524.25,607.09 525.10,608.06 525.95,603.11 526.80,597.41 527.65,621.28 528.50,601.51 529.35,601.62 530.20,590.19 531.05,608.07 531.90,616.61 532.75,617.29 533.60,624.60 534.45,617.78 535.30,609.44 536.15,606.35 537.00,616.95 537.85,605.45 538.70,607.05 539.55,597.75 540.40,605.86 541.25,620.63 542.10,604.05 542.95,607.64 543.80,584.48 544.65,615.07 545.50,606.72 546.35,615.11 547.20,604.76 548.05,594.75 548.90,589.64 549.75,605.76 550.60,600.51 551.45,591.26 552.30,599.14 553.15,593.24 554.00,605.61 554.85,594.25 555.70,585.72 556.55,596.34 557.40,591.07 558.25,611.15 559.10,590.89 559.95,581.46 560.80,593.74 561.65,590.78 562.50,595.67 563.35,594.32 564.20,579.46 565.05,589.73 565.90,588.32 566.75,574.52 567.60,581.06 568.45,589.63 569.30,566.57 570.15,571.88 571.00,578.76 571.85,582.73 572.70,589.85 573.55,564.15 574.40,585.54 575.25,589.25 576.10,601.35 576.95,572.99 577.80,565.06 578.65,555.31 579.50,584.20 580.35,594.01 581.20,564.62 582.05,580.26 582.90,585.65 583.75,586.36 584.60,565.60 585.45,580.44 586.30,569.41 587.15,555.16 588.00,572.71 588.85,573.51 589.70,552.47 590.55,572.98 591.40,595.92 592.25,539.72 593.10,573.14 593.95,575.24 594.80,559.96 595.65,563.04 596.50,551.90 597.35,576.97 598.20,537.94 599.05,549.52 599.90,518.88 600.75,553.66 601.60,552.66 602.45,518.34 603.30,529.41 604.15,548.88 605.00,531.97 605.85,519.06 606.70,498.01 607.55,539.62 608.40,562.08 609.25,523.86 610.10,535.56 610.95,533.06 611.80,523.36 612.65,523.84 613.50,521.90 614.35,505.44 615.20,551.70 616.05,550.02 616.90,515.90 617.75,533.17 618.60,493.60 619.45,498.42 620.30,511.20 621.15,484.00 622.00,479.00 622.85,511.97 623.70,507.44 624.55,600.18 625.40,598.26 626.25,603.99 627.10,613.84 627.95,612.94 628.80,619.08 629.65,629.02 630.50,630.00 631.35,629.63 632.20,629.48 633.05,629.07 633.90,630.00 634.75,628.30 635.60,628.85 636.45,629.14 637.30,628.34 638.15,628.52 639.00,628.79 639.85,630.00 640.70,630.00 641.55,629.94 642.40,628.40 643.25,629.21 644.10,629.59 644.95,629.50 645.80,629.44 646.65,630.00 647.50,628.30 648.35,629.33 649.20,629.93 650.05,630.00 650.90,630.00 651.75,629.83 652.60,629.73 653.45,629.38 654.30,629.91 655.15,629.73 656.00,629.40 656.85,630.00 657.70,630.00 658.55,629.68 659.40,630.00 660.25,630.00 661.10,630.00 661.95,630.00 662.80,630.00 663.65,628.98 664.50,629.14 665.35,630.00" fill="none" stroke="#561a1a" stroke-width="0.8" stroke-linejoin="round"/>
<polyline points="69.50,616.15 70.35,621.98 71.20,621.30 72.05,613.40 72.90,614.25 73.75,613.10 74.60,618.00 75.45,615.04 76.30,618.65 77.15,606.51 78.00,622.33 78.85,614.45 79.70,618.03 80.55,614.05 81.40,612.78 82.25,616.74 83.10,618.42 83.95,613.31 84.80,613.44 85.65,617.51 86.50,609.64 87.35,606.27 88.20,615.80 89.05,610.28 89.90,603.74 90.75,609.29 91.60,610.97 92.45,607.05 93.30,605.34 94.15,613.29 95.00,617.78 95.85,611.39 96.70,608.19 97.55,614.16 98.40,615.78 99.25,609.53 100.10,614.23 100.95,616.99 101.80,608.99 102.65,604.81 103.50,611.83 104.35,610.87 105.20,616.17 106.05,599.97 106.90,603.74 107.75,602.12 108.60,595.44 109.45,608.12 110.30,610.74 111.15,601.51 112.00,616.72 112.85,612.55 113.70,611.03 114.55,609.27 115.40,613.24 116.25,596.18 117.10,610.51 117.95,610.32 118.80,592.38 119.65,608.18 120.50,603.52 121.35,611.26 122.20,601.80 123.05,604.90 123.90,607.57 124.75,597.97 125.60,609.34 126.45,603.71 127.30,608.29 128.15,600.14 129.00,612.80 129.85,608.86 130.70,602.50 131.55,608.93 132.40,613.93 133.25,618.18 134.10,590.81 134.95,610.70 135.80,607.22 136.65,602.57 137.50,594.98 138.35,613.53 139.20,592.65 140.05,607.69 140.90,613.73 141.75,589.49 142.60,600.21 143.45,591.68 144.30,604.62 145.15,615.26 146.00,619.52 146.85,587.23 147.70,597.34 148.55,608.15 149.40,615.57 150.25,605.57 151.10,595.34 151.95,604.19 152.80,601.29 153.65,599.48 154.50,594.62 155.35,604.37 156.20,603.51 157.05,599.76 157.90,598.42 158.75,588.60 159.60,595.65 160.45,610.95 161.30,597.99 162.15,586.27 163.00,611.78 163.85,604.17 164.70,618.80 165.55,599.48 166.40,594.36 167.25,584.80 168.10,611.01 168.95,622.17 169.80,590.14 170.65,591.46 171.50,603.24 172.35,588.86 173.20,594.02 174.05,592.87 174.90,597.99 175.75,606.89 176.60,595.59 177.45,604.57 178.30,590.28 179.15,597.80 180.00,576.00 180.85,578.09 181.70,601.94 182.55,586.54 183.60,571.00 184.25,598.31 185.10,606.73 185.95,600.73 186.80,602.76 187.65,589.54 188.50,582.37 189.35,581.54 190.20,583.96 191.05,575.93 191.90,582.40 192.75,587.44 193.60,591.23 194.45,582.65 195.30,559.73 196.15,581.65 197.00,583.66 197.85,593.83 198.70,584.61 199.55,564.68 200.40,562.25 201.25,602.65 202.10,584.00 202.95,599.86 203.80,604.21 204.65,560.39 205.50,578.17 206.35,579.17 207.20,580.60 208.05,580.26 208.90,575.12 209.75,574.62 210.60,549.13 211.45,568.50 212.30,559.13 213.15,571.70 214.00,562.10 214.85,578.03 215.70,580.55 216.55,572.16 217.40,571.70 218.25,567.66 219.10,558.67 219.95,562.47 220.80,556.25 221.65,569.15 222.50,562.22 223.35,570.29 224.20,538.54 225.05,573.35 225.90,545.47 226.75,544.83 227.60,552.63 228.45,545.61 229.30,558.61 230.15,543.44 231.00,534.32 231.85,536.90 232.70,570.66 233.55,549.10 234.40,528.58 235.25,546.31 236.10,520.34 236.95,572.30 237.80,518.81 238.65,549.28 239.50,549.16 240.35,517.03 241.20,543.47 242.05,553.41 242.90,544.33 243.75,540.27 244.60,549.99 245.45,537.02 246.30,538.84 247.15,530.92 248.00,541.59 248.85,516.90 249.70,542.25 250.55,521.38 251.40,511.09 252.25,531.20 253.10,549.18 253.95,536.71 254.80,513.48 255.65,529.53 256.50,511.26 257.35,514.44 258.20,515.99 259.05,480.64 259.90,514.99 260.75,496.61 261.60,500.10 262.45,488.12 263.30,486.42 264.15,493.21 265.00,516.33 265.85,525.45 266.70,500.24 267.55,512.96 268.40,492.66 269.25,473.00 270.10,493.48 270.95,493.26 271.80,478.22 272.65,483.41 273.50,483.79 274.35,473.00 275.20,468.00 276.05,473.00 276.90,473.00 277.75,479.07 278.60,559.63 279.45,608.17 280.30,579.58 281.15,593.95 282.00,597.02 282.85,594.00 283.70,598.28 284.55,579.46 285.40,594.14 286.25,610.89 287.10,594.84 287.95,576.06 288.80,592.12 289.65,600.68 290.50,588.87 291.35,576.57 292.20,604.36 293.05,567.51 293.90,590.64 294.75,583.79 295.60,568.25 296.45,600.09 297.30,588.59 298.15,568.60 299.00,591.94 299.85,578.31 300.70,558.06 301.55,573.45 302.40,585.69 303.25,590.21 304.10,583.04 304.95,580.68 305.80,583.57 306.65,570.29 307.50,587.77 308.35,568.90 309.20,567.84 310.05,568.67 310.90,541.96 311.75,546.69 312.60,582.44 313.45,562.07 314.30,551.05 315.15,560.46 316.00,546.11 316.85,557.70 317.70,541.46 318.55,555.93 319.40,525.05 320.25,571.24 321.10,540.64 321.95,522.66 322.80,543.62 323.65,540.43 324.50,547.93 325.35,526.47 326.20,550.09 327.05,582.40 327.90,521.98 328.75,546.55 329.60,535.54 330.45,542.19 331.30,509.59 332.15,518.39 333.00,541.64 333.85,532.48 334.70,556.33 335.55,519.38 336.40,531.10 337.25,564.23 338.10,514.07 338.95,510.56 339.80,521.84 340.65,519.92 341.50,530.91 342.35,518.69 343.20,504.17 344.05,516.08 344.90,546.36 345.75,527.10 346.60,472.84 347.45,503.66 348.30,491.79 349.15,510.30 350.00,497.67 350.85,523.18 351.70,507.17 352.55,503.96 353.50,434.00 354.25,486.74 355.10,489.04 355.95,498.82 356.80,487.18 357.65,475.18 358.50,494.94 359.60,434.00 360.20,479.23 361.05,479.36 361.90,491.32 362.75,522.82 363.60,526.98 364.45,587.69 365.30,587.41 366.15,583.41 367.00,604.04 367.85,603.00 368.70,598.64 369.55,558.47 370.40,580.54 371.25,588.21 372.10,600.88 372.95,601.83 373.80,593.31 374.65,551.55 375.50,534.30 376.35,576.60 377.20,568.20 378.05,582.46 378.90,565.68 379.75,570.90 380.60,544.40 381.45,574.24 382.30,560.43 383.15,572.57 384.00,574.17 384.85,565.21 385.70,571.61 386.55,566.17 387.40,577.81 388.25,573.50 389.10,556.84 389.95,555.84 390.80,591.96 391.65,562.75 392.50,579.58 393.35,569.85 394.20,554.42 395.05,551.02 395.90,562.59 396.75,562.63 397.60,566.38 398.45,533.28 399.30,542.15 400.15,548.02 401.00,572.61 401.85,507.02 402.70,548.80 403.55,530.93 404.40,543.46 405.25,527.11 405.70,493.00 406.95,556.05 407.80,536.44 408.65,536.42 409.50,534.30 410.35,516.10 411.20,533.66 412.05,520.83 412.90,510.31 413.75,519.94 414.60,515.51 415.45,527.35 416.30,513.17 417.15,503.58 418.00,528.48 418.85,519.07 419.70,510.82 420.55,488.57 421.00,473.00 422.25,487.89 423.10,506.75 423.95,574.22 424.80,596.75 425.65,602.82 426.50,617.95 427.35,612.65 428.20,619.13 429.05,613.95 429.90,613.94 430.75,619.47 431.60,618.90 432.45,613.13 433.30,622.35 434.15,627.72 435.00,614.52 435.85,626.68 436.70,617.84 437.55,618.73 438.40,620.03 439.25,615.85 440.10,625.43 440.95,622.60 441.80,618.22 442.65,619.77 443.50,615.35 444.35,619.34 445.20,623.79 446.05,614.30 446.90,618.75 447.75,620.75 448.60,623.92 449.45,624.94 450.30,618.31 451.15,617.18 452.00,621.46 452.85,618.37 453.70,618.48 454.55,623.57 455.40,625.79 456.25,620.37 457.10,618.56 457.95,621.37 458.80,611.92 459.65,618.97 460.50,614.87 461.35,628.10 462.20,621.58 463.05,619.25 463.90,617.85 464.75,608.69 465.60,621.26 466.45,624.82 467.30,615.37 468.15,620.92 469.00,621.00 469.85,611.76 470.70,621.72 471.55,623.36 472.40,618.69 473.25,617.42 474.10,620.84 474.95,611.12 475.80,617.81 476.65,621.74 477.50,612.04 478.35,621.34 479.20,615.31 480.05,608.16 480.90,616.39 481.75,612.51 482.60,617.93 483.45,611.28 484.30,620.87 485.15,612.83 486.00,617.54 486.85,613.14 487.70,614.19 488.55,620.92 489.40,616.34 490.25,613.38 491.10,609.22 491.95,620.37 492.80,618.25 493.65,613.04 494.50,615.64 495.35,609.26 496.20,609.14 497.05,609.88 497.90,615.65 498.75,615.23 499.60,609.73 500.45,617.25 501.30,617.39 502.15,614.04 503.00,618.52 503.85,611.28 504.70,612.06 505.55,615.12 506.40,612.19 507.25,616.66 508.10,605.03 508.95,620.03 509.80,607.31 510.65,610.68 511.50,603.46 512.35,614.86 513.20,618.73 514.05,617.44 514.90,615.91 515.75,601.30 516.60,605.81 517.45,607.60 518.30,604.49 519.15,617.17 520.00,611.16 520.85,609.59 521.70,612.63 522.55,603.04 523.40,603.00 524.25,602.86 525.10,611.82 525.95,610.54 526.80,611.93 527.65,615.20 528.50,597.92 529.35,603.22 530.20,608.00 531.05,596.97 531.90,602.61 532.75,613.73 533.60,614.22 534.45,613.87 535.30,605.91 536.15,603.75 537.00,613.42 537.85,602.02 538.70,607.32 539.55,614.89 540.40,601.31 541.25,599.11 542.10,603.70 542.95,608.41 543.80,607.27 544.65,604.38 545.50,607.39 546.35,588.69 547.20,594.42 548.05,602.80 548.90,592.67 549.75,588.38 550.60,588.99 551.45,591.08 552.30,597.44 553.15,588.97 554.00,600.45 554.85,614.20 555.70,595.84 556.55,609.50 557.40,599.28 558.25,584.55 559.10,592.85 559.95,584.82 560.80,602.43 561.65,581.16 562.50,607.31 563.35,598.54 564.20,568.46 565.05,599.65 565.90,608.05 566.75,579.75 567.60,600.31 568.45,565.63 569.30,590.08 570.15,565.21 571.00,591.65 571.85,561.47 572.70,551.00 573.55,588.56 574.40,613.57 575.25,573.55 576.10,592.51 576.95,581.61 577.80,574.62 578.65,587.12 579.50,601.05 580.35,558.83 581.20,583.98 582.05,579.99 582.90,553.18 583.75,597.10 584.60,601.36 585.45,557.31 586.30,596.82 587.15,570.70 588.00,566.52 588.85,591.14 589.70,570.80 590.55,571.07 591.40,588.37 592.25,583.52 593.10,575.97 593.95,537.75 594.80,533.31 595.65,575.85 596.50,540.67 597.35,556.94 598.20,535.52 599.05,548.63 599.90,529.49 600.75,574.71 601.60,530.51 602.45,543.16 603.30,540.43 604.15,560.65 605.00,517.82 605.85,537.78 606.70,533.37 607.55,543.03 608.40,540.40 609.25,524.47 610.10,533.35 610.95,521.96 611.80,532.31 612.65,521.68 613.50,511.44 614.35,518.42 615.20,521.85 616.05,546.69 616.90,505.32 617.75,513.27 618.60,525.72 619.45,484.00 620.30,484.00 621.15,484.00 622.00,479.00 622.85,541.76 623.70,545.09 624.55,593.36 625.40,587.41 626.25,581.26 627.10,595.07 627.95,621.26 628.80,622.72 629.65,624.70 630.50,630.00 631.35,628.17 632.20,630.00 633.05,630.00 633.90,628.90 634.75,628.63 635.60,630.00 636.45,628.68 637.30,630.00 638.15,628.64 639.00,630.00 639.85,629.71 640.70,629.30 641.55,628.95 642.40,629.86 643.25,628.21 644.10,629.49 644.95,629.41 645.80,630.00 646.65,628.79 647.50,630.00 648.35,629.53 649.20,628.94 650.05,630.00 650.90,630.00 651.75,629.67 652.60,629.19 653.45,629.84 654.30,629.37 655.15,629.64 656.00,630.00 656.85,630.00 657.70,629.99 658.55,630.00 659.40,629.88 660.25,630.00 661.10,630.00 661.95,629.72 662.80,630.00 663.65,630.00 664.50,630.00 665.35,629.89" fill="none" stroke="#de2c2c" stroke-width="0.8" stroke-linejoin="round"/>
<text class="t" transform="translate(66.9,229.25) scale(0.88,1)" font-size="10.5" text-anchor="end">40</text>
<text class="t" transform="translate(66.9,158.25) scale(0.88,1)" font-size="10.5" text-anchor="end">80</text>
<text class="t" transform="translate(66.9,86.25) scale(0.88,1)" font-size="10.5" text-anchor="end">120</text>
<text class="t" transform="translate(66.9,14.25) scale(0.88,1)" font-size="10.5" text-anchor="end">160</text>
<text class="t" transform="translate(66.9,560.25) scale(0.88,1)" font-size="10.5" text-anchor="end">15</text>
<text class="t" transform="translate(66.9,487.25) scale(0.88,1)" font-size="10.5" text-anchor="end">30</text>
<text class="t" transform="translate(66.9,413.25) scale(0.88,1)" font-size="10.5" text-anchor="end">45</text>
<text class="t" transform="translate(66.9,339.25) scale(0.88,1)" font-size="10.5" text-anchor="end">60</text>
<text class="t" transform="translate(69.50,307.80) scale(0.88,1)" font-size="10.5" text-anchor="middle">3063.00</text>
<text class="t" transform="translate(218.50,307.80) scale(0.88,1)" font-size="10.5" text-anchor="middle">4311.00</text>
<text class="t" transform="translate(367.50,307.80) scale(0.88,1)" font-size="10.5" text-anchor="middle">5558.00</text>
<text class="t" transform="translate(516.50,307.80) scale(0.88,1)" font-size="10.5" text-anchor="middle">6805.00</text>
<text class="t" transform="translate(665.50,307.80) scale(0.88,1)" font-size="10.5" text-anchor="middle">8053.00</text>
<text class="t" transform="translate(367.5,321.10) scale(0.88,1)" font-size="10.5" text-anchor="middle">Energy (keV)</text>
<text class="t" transform="translate(69.50,640.80) scale(0.88,1)" font-size="10.5" text-anchor="middle">3063.00</text>
<text class="t" transform="translate(218.50,640.80) scale(0.88,1)" font-size="10.5" text-anchor="middle">4311.00</text>
<text class="t" transform="translate(367.50,640.80) scale(0.88,1)" font-size="10.5" text-anchor="middle">5558.00</text>
<text class="t" transform="translate(516.50,640.80) scale(0.88,1)" font-size="10.5" text-anchor="middle">6805.00</text>
<text class="t" transform="translate(665.50,640.80) scale(0.88,1)" font-size="10.5" text-anchor="middle">8053.00</text>
<text class="t" transform="translate(367.5,654.10) scale(0.88,1)" font-size="10.5" text-anchor="middle">Energy (keV)</text>
<text class="t" transform="translate(14.3,155.4) rotate(-90) scale(1.1,1)" font-size="11" text-anchor="middle" style="stroke-width:0.15px">Counts</text>
<text class="t" transform="translate(13.5,484.3) rotate(-90) scale(1.1,1)" font-size="11" text-anchor="middle" style="stroke-width:0.15px">Counts</text>
<text x="22.3" y="30.1" font-size="18" font-weight="bold" fill="#000">A</text>
<text x="19.5" y="356.0" font-size="17" font-weight="bold" fill="#000">B</text>
<text class="s" transform="translate(254.7,59.3) scale(1.1,1)" font-size="10" letter-spacing="0.1" fill="#000">226</text>
<text class="s" transform="translate(272.1,64.0) scale(1.12,1)" font-size="14.5" fill="#000">Ra</text>
<text class="s" transform="translate(337.5,64.8) scale(1.1,1)" font-size="10" letter-spacing="0.1" fill="#000">222</text>
<text class="s" transform="translate(354.1,69.5) scale(1.21,1)" font-size="14.5" fill="#000">Rn</text>
<text class="s" transform="translate(397.8,42.3) scale(1.1,1)" font-size="10" letter-spacing="0.1" fill="#000">218</text>
<text class="s" transform="translate(414.2,47.0) scale(1.26,1)" font-size="14.5" fill="#000">Po</text>
<text class="s" transform="translate(599.8,48.8) scale(1.1,1)" font-size="10" letter-spacing="0.1" fill="#000">214</text>
<text class="s" transform="translate(616.2,53.5) scale(1.26,1)" font-size="14.5" fill="#000">Po</text>
<text class="s" transform="translate(252.1,454.1) scale(1.1,1)" font-size="10" letter-spacing="0.1" fill="#000">226</text>
<text class="s" transform="translate(269.1,458.8) scale(1.12,1)" font-size="14.5" fill="#000">Ra</text>
<text class="s" transform="translate(332.8,419.7) scale(1.1,1)" font-size="10" letter-spacing="0.1" fill="#000">222</text>
<text class="s" transform="translate(348.5,424.4) scale(1.23,1)" font-size="14.5" fill="#000">Rn</text>
<text class="s" transform="translate(399.5,465.5) scale(1.1,1)" font-size="10" letter-spacing="0.1" fill="#000">218</text>
<text class="s" transform="translate(415.8,470.2) scale(1.26,1)" font-size="14.5" fill="#000">Po</text>
<text class="s" transform="translate(596.7,465.7) scale(1.1,1)" font-size="10" letter-spacing="0.1" fill="#000">214</text>
<text class="s" transform="translate(613.0,470.4) scale(1.26,1)" font-size="14.5" fill="#000">Po</text>
<rect x="0" y="0" width="685" height="1" fill="#454545"/>
<rect x="0" y="1" width="685" height="1" fill="#8a8a8a"/>
<rect x="0" y="0" width="1" height="665" fill="#8a8a8a"/>
<rect x="1" y="1" width="1" height="663" fill="#4c4c4c"/>
<rect x="684" y="0" width="1" height="665" fill="#151515"/>
<rect x="683" y="1" width="1" height="663" fill="#8a8a8a"/>
<rect x="0" y="663" width="685" height="1" fill="#4a4a4a"/>
<rect x="0" y="664" width="685" height="1" fill="#8a8a8a"/>
<rect x="1" y="328" width="684" height="2" fill="#1e1e1e"/>
</svg></body></html>
